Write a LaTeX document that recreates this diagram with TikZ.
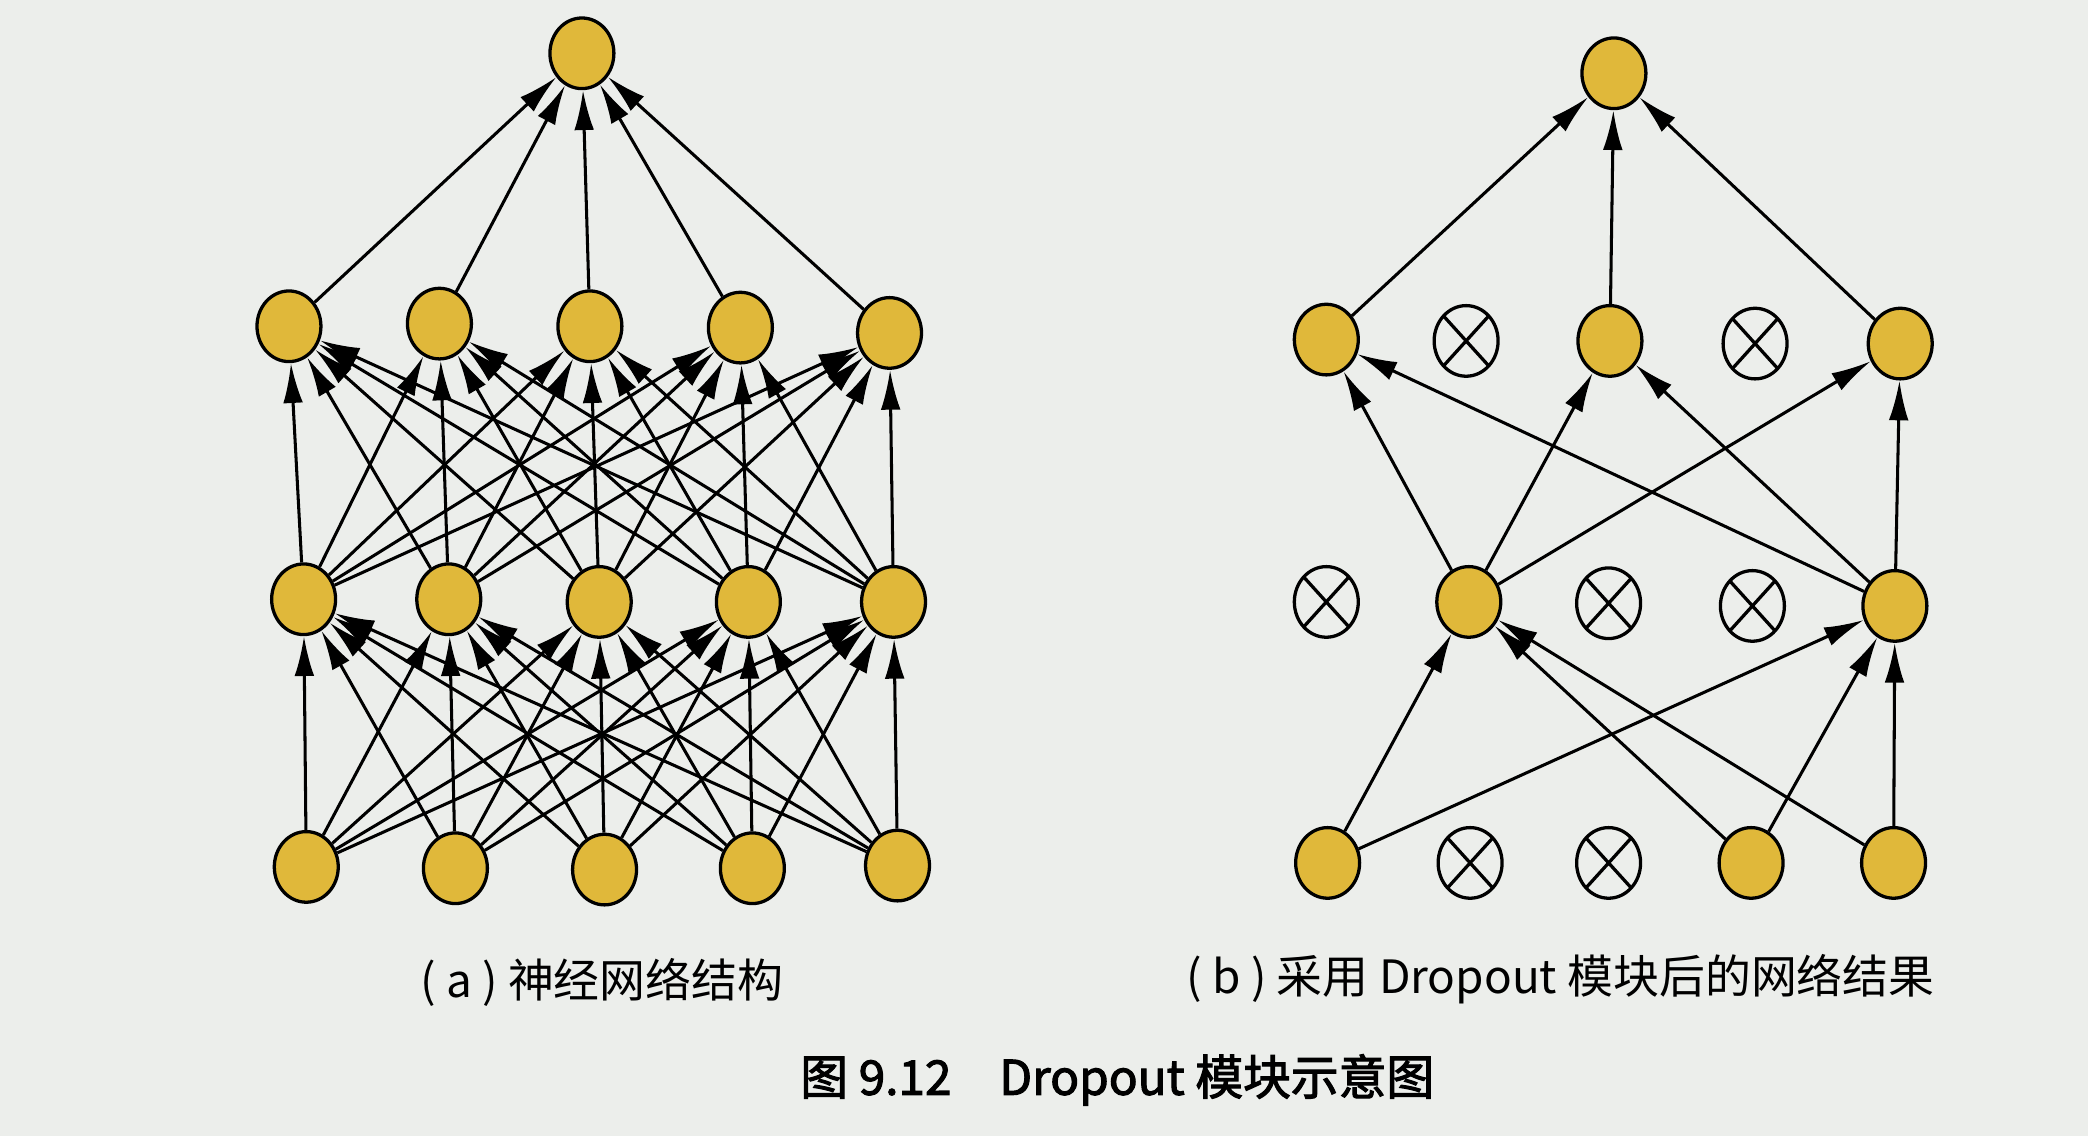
\documentclass[tikz,border=0pt]{standalone}
\usepackage{fontspec}
\setmainfont{Noto Sans CJK SC}
\newfontfamily\titlefont[FakeBold=2.2]{Noto Sans CJK SC}
\usetikzlibrary{arrows.meta,shapes.geometric}
\definecolor{unitfill}{HTML}{E0B83A}
\definecolor{paper}{HTML}{ECEEEB}
\tikzset{
  unit/.style={ellipse,draw,line width=0.7pt,fill=unitfill,minimum width=0.48cm,minimum height=0.53cm,inner sep=0pt},
  dropped/.style={ellipse,draw,line width=0.7pt,minimum width=0.48cm,minimum height=0.53cm,inner sep=0pt,
    path picture={\draw[line width=0.7pt] (path picture bounding box.north west) -- (path picture bounding box.south east)
      (path picture bounding box.north east) -- (path picture bounding box.south west);}},
  conn/.style={-{Latex[length=8.5pt,width=4.2pt]},line width=0.65pt},
  subcap/.style={font=\fontsize{9.8}{11}\selectfont},
}
\begin{document}
\begin{tikzpicture}[x=0.01cm,y=-0.01cm]
  \fill[paper] (0,0) rectangle (1568,853);
  % (a) full network
  \node[unit] (ao) at (437,40) {};
  \foreach \x/\y [count=\k] in {217/245,330/243,443/245,556/246,668/250}
    \node[unit] (ag\k) at (\x,\y) {};
  \foreach \x/\y [count=\k] in {228/450,337/450,450/452,562/452,671/452}
    \node[unit] (ah\k) at (\x,\y) {};
  \foreach \x/\y [count=\k] in {230/651,342/652,454/653,565/652,674/650}
    \node[unit] (ai\k) at (\x,\y) {};
  \foreach \i in {1,...,5} {
    \draw[conn] (ag\i) to (ao);
    \foreach \j in {1,...,5} {
      \draw[conn] (ah\i) to (ag\j);
      \draw[conn] (ai\i) to (ah\j);
    }
  }
  \node[subcap] (capa) at (452,738) {( a ) 神经网络结构};
  % (b) after dropout
  \node[unit] (bo) at (1212,55) {};
  \node[unit] (bg1) at (996,255) {};
  \node[dropped] (bg2) at (1101,256) {};
  \node[unit] (bg3) at (1209,256) {};
  \node[dropped] (bg4) at (1318,258) {};
  \node[unit] (bg5) at (1427,258) {};
  \node[dropped] (bh1) at (996,452) {};
  \node[unit] (bh2) at (1103,452) {};
  \node[dropped] (bh3) at (1208,453) {};
  \node[dropped] (bh4) at (1316,455) {};
  \node[unit] (bh5) at (1423,455) {};
  \node[unit] (bi1) at (997,648) {};
  \node[dropped] (bi2) at (1104,648) {};
  \node[dropped] (bi3) at (1208,648) {};
  \node[unit] (bi4) at (1315,648) {};
  \node[unit] (bi5) at (1422,648) {};
  \foreach \g in {1,3,5} \draw[conn] (bg\g) to (bo);
  \foreach \h in {2,5} {
    \foreach \g in {1,3,5} \draw[conn] (bh\h) to (bg\g);
    \foreach \i in {1,4,5} \draw[conn] (bi\i) to (bh\h);
  }
  \node[subcap] (capb) at (1172,735) {( b ) 采用 Dropout 模块后的网络结果};
  \node[font=\titlefont\fontsize{10.2}{12}\selectfont] (title) at (839,811) {图 9.12\quad Dropout 模块示意图};
\end{tikzpicture}
\end{document}
